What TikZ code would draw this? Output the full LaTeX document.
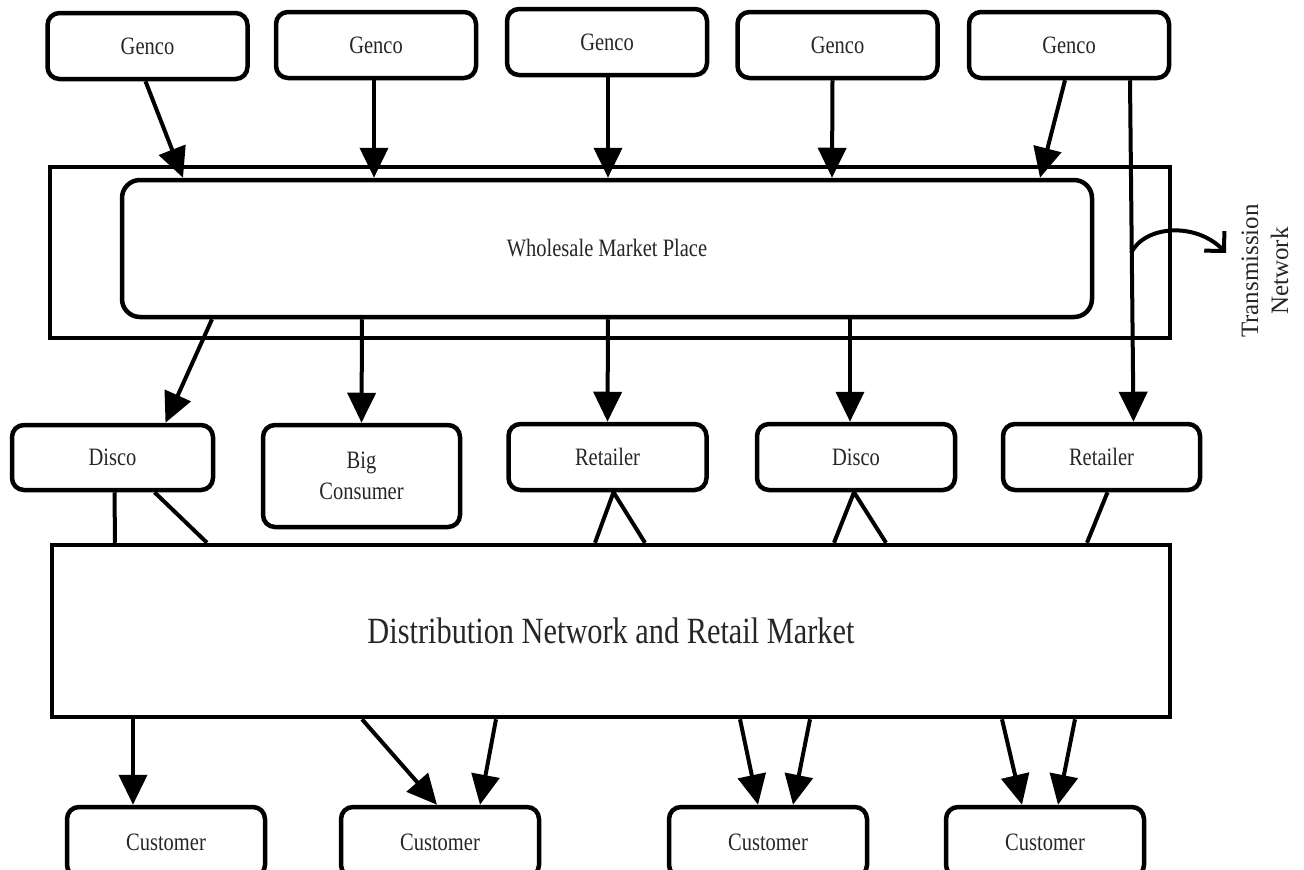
\documentclass[tikz,border=0pt]{standalone}
\usepackage{fontspec}
\setmainfont{Liberation Serif}[FakeStretch=0.82]
\newfontfamily\plainserif{Liberation Serif}
\usetikzlibrary{arrows.meta}

\tikzset{
    box/.style={draw, line width=4.5pt, rounded corners=12pt, minimum width=198pt, minimum height=66pt,
        inner sep=0pt, align=center, text=black!85, font=\fontsize{25}{31}\selectfont},
    arr/.style={line width=4pt, -{Triangle[length=30pt, width=28pt]}},
    link/.style={line width=4pt},
}

\begin{document}
\begin{tikzpicture}[x=1pt, y=-1pt]
    \useasboundingbox (0,0) rectangle (1304,870);

    % gencos
    \foreach \x/\y [count=\i] in {147.5/46, 376/45, 607/42, 837.5/45, 1069/45}
        \node[box, minimum width=200pt] (g\i) at (\x, \y) {Genco};

    % transmission network and wholesale market
    \node[draw, line width=4.5pt, minimum width=1120pt, minimum height=171pt] (tn) at (610, 252.5) {};
    \node[box, rounded corners=18pt, minimum width=970pt, minimum height=137pt] (ws) at (607, 248.5) {Wholesale Market Place};

    % second row
    \node[box, minimum width=201pt, minimum height=65pt] (d1) at (112.5, 457.5) {Disco};
    \node[box, minimum width=197pt, minimum height=102pt] (bc) at (361.5, 476) {Big\\Consumer};
    \node[box] (r1) at (607.5, 457) {Retailer};
    \node[box] (d2) at (856, 457) {Disco};
    \node[box, minimum width=197pt] (r2) at (1101.5, 457) {Retailer};

    % distribution network
    \node[draw, line width=4.5pt, minimum width=1118pt, minimum height=172pt, text=black!85,
        font=\fontsize{37}{40}\selectfont] (dn) at (611, 631) {Distribution Network and Retail Market};

    % customers (cut by the page edge)
    \foreach \x [count=\i] in {166, 440, 768, 1045}
        \node[box, minimum height=70pt] (c\i) at (\x, 842) {Customer};

    % genco -> wholesale
    \foreach \i/\a/\b in {1/-2/-424, 2/-2/-233, 3/1/1, 4/-5/225, 5/-4/433}
        \draw[arr] ([xshift=\a*1pt] g\i.south) -- ([xshift=\b*1pt] ws.north);
    \draw[arr] ([xshift=61pt] g5.south) -- ([xshift=32pt] r2.north);

    % wholesale -> second row
    \draw[arr] ([xshift=-395pt] ws.south) -- ([xshift=53pt] d1.north);
    \draw[arr] ([xshift=-245pt] ws.south) -- (bc.north);
    \draw[arr] ([xshift=1pt] ws.south) -- (r1.north);
    \draw[arr] ([xshift=243pt] ws.south) -- ([xshift=-6pt] d2.north);

    % second row -- distribution
    \draw[link] ([xshift=2pt] d1.south) -- ([xshift=-496pt] dn.north);
    \draw[link] ([xshift=42pt] d1.south) -- ([xshift=-404pt] dn.north);
    \draw[link] ([xshift=-16pt] dn.north) -- ([xshift=6pt] r1.south) -- ([xshift=34pt] dn.north);
    \draw[link] ([xshift=223pt] dn.north) -- ([xshift=-2pt] d2.south) -- ([xshift=275pt] dn.north);
    \draw[link] ([xshift=6pt] r2.south) -- ([xshift=476pt] dn.north);

    % distribution -> customers
    \foreach \a/\i/\b in {-478/1/-33, -249/2/-3, -115/2/40, 129/3/-10, 199/3/25, 391/4/-23, 464/4/13}
        \draw[arr] ([xshift=\a*1pt] dn.south) -- ([xshift=\b*1pt] c\i.north);

    % transmission network label
    \coordinate (tap) at (1131, 253);
    \coordinate (tip) at (1226, 253);
    \draw[line width=4pt, -{Straight Barb[length=14pt, width=28pt]}] (tap) .. controls (1145, 225) and (1196, 222) .. (tip);
    \node[rotate=90, align=center, text=black!85, font=\plainserif\fontsize{25}{30}\selectfont] (tl) at (1265, 271) {Transmission\\Network};
\end{tikzpicture}
\end{document}
